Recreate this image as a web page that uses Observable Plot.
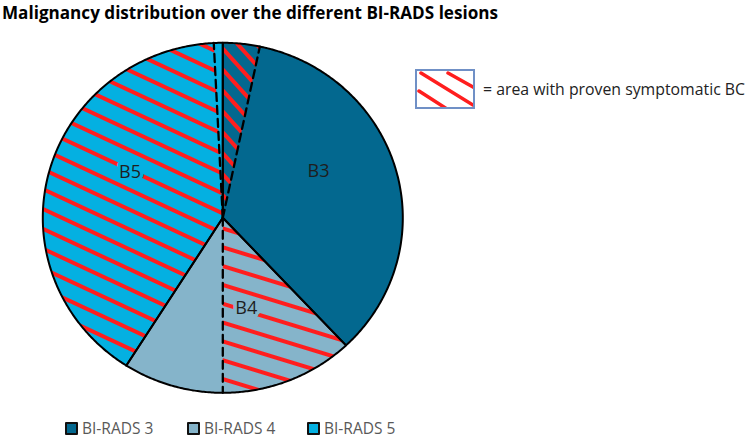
<!DOCTYPE html>
<html>
<head>
<meta charset="utf-8">
<script src="https://cdn.jsdelivr.net/npm/d3@7"></script>
<script src="https://cdn.jsdelivr.net/npm/@observablehq/plot@0.6"></script>
<style>
  html, body { margin: 0; padding: 0; background: #fff; }
  #wrap { position: relative; width: 749px; height: 439px; overflow: hidden; font-family: "Open Sans", "Noto Sans", sans-serif; }
  #chart { position: absolute; left: 0; top: 0; }
  #title { position: absolute; left: 2px; top: 1px; font-weight: 700; font-size: 17px; color: #000; white-space: nowrap; transform-origin: 0 0; }
  #hatchKey { position: absolute; left: 415px; top: 69px; width: 56px; height: 36px; border: 2.5px solid #7090c6; background: #fff; }
  #hatchKeyText { position: absolute; left: 483px; top: 78px; font-size: 16px; color: #222; white-space: nowrap; transform-origin: 0 0; }
  #legend { position: absolute; left: 0; top: 420px; height: 16px; width: 749px; }
  .item { position: absolute; top: 0; height: 16px; line-height: 16px; display: flex; align-items: center; font-size: 15.5px; color: #595959; white-space: nowrap; }
  .sw { width: 9px; height: 9px; border: 2px solid #111; margin-right: 4px; border-radius: 1px; }
</style>
</head>
<body>
<div id="wrap">
  <div id="chart"></div>
  <div id="title">Malignancy distribution over the different BI-RADS lesions</div>
  <div id="hatchKey"><svg width="56" height="36" style="display:block;overflow:hidden">
    <line x1="4" y1="2" x2="56" y2="34" stroke="#ff1e1e" stroke-width="3.5" stroke-linecap="round"/>
    <line x1="31" y1="2" x2="58" y2="17" stroke="#ff1e1e" stroke-width="3.5" stroke-linecap="round"/>
    <line x1="2" y1="20" x2="30" y2="38" stroke="#ff1e1e" stroke-width="3.5" stroke-linecap="round"/>
  </svg></div>
  <div id="hatchKeyText">= area with proven symptomatic BC</div>
  <div id="legend"></div>
</div>
<script>
// ---- data ----
const categories = ["BI-RADS 3", "BI-RADS 4", "BI-RADS 5"];
const sliceLabels = ["B3", "B4", "B5"];
const shares = [38.0, 21.0, 41.0];          // % of all malignancies per BI-RADS class
const symptomatic = [3.3, 12.0, 40.2];      // % of all malignancies with proven symptomatic BC

// ---- styles ----
const colors = ["#03688f", "#85b4ca", "#04b0e1"];
const hatchRed = "#ff1e1e";
const hatchAngle = [48, 17, 25];
const hatchGap = [14, 18, 18];
const labelNudge = [[2, -10], [14, -7], [4, -18]];

// ---- geometry from data ----
const starts = [];
let acc = 0;
for (const s of shares) { starts.push(acc * 3.6); acc += s; }

function wedge(a0, a1) {
  const pts = [{x: 0, y: 0}];
  const n = Math.max(2, Math.ceil((a1 - a0) / 0.5));
  for (let i = 0; i <= n; i++) {
    const a = (a0 + (a1 - a0) * i / n) * Math.PI / 180;
    pts.push({x: Math.sin(a), y: Math.cos(a)});
  }
  return pts;
}
function ray(a) {
  const r = a * Math.PI / 180;
  return [{x: 0, y: 0}, {x: Math.sin(r), y: Math.cos(r)}];
}

const defsMark = () => {
  const ns = "http://www.w3.org/2000/svg";
  const defs = document.createElementNS(ns, "defs");
  defs.innerHTML = categories.map((c, i) =>
    `<pattern id="hatch${i}" patternUnits="userSpaceOnUse" width="40" height="${hatchGap[i]}" patternTransform="rotate(${hatchAngle[i]})">
       <line x1="0" y1="${hatchGap[i] / 2}" x2="40" y2="${hatchGap[i] / 2}" stroke="${hatchRed}" stroke-width="3.8"/>
     </pattern>`).join("");
  return defs;
};

const marks = [defsMark];
categories.forEach((c, i) => {
  const a0 = starts[i], a1 = starts[i] + shares[i] * 3.6;
  marks.push(Plot.line(wedge(a0, a1), {x: "x", y: "y", fill: colors[i], stroke: "none", curve: "linear-closed"}));
});
categories.forEach((c, i) => {
  const a0 = starts[i], a1 = starts[i] + symptomatic[i] * 3.6;
  marks.push(Plot.line(wedge(a0, a1), {x: "x", y: "y", fill: `url(#hatch${i})`, stroke: "none", curve: "linear-closed"}));
});
categories.forEach((c, i) => {
  const a1 = starts[i] + symptomatic[i] * 3.6;
  marks.push(Plot.line(ray(a1), {x: "x", y: "y", stroke: "#000", strokeWidth: 2.3, strokeDasharray: "8,5"}));
});
categories.forEach((c, i) => {
  const a0 = starts[i], a1 = starts[i] + shares[i] * 3.6;
  marks.push(Plot.line(wedge(a0, a1), {x: "x", y: "y", fill: "none", stroke: "#000", strokeWidth: 2, strokeLinejoin: "round", curve: "linear-closed"}));
});
const labelData = categories.map((c, i) => {
  const mid = (starts[i] + shares[i] * 1.8) * Math.PI / 180;
  return {x: 0.56 * Math.sin(mid), y: 0.56 * Math.cos(mid), label: sliceLabels[i], i};
});
labelData.forEach(d => {
  marks.push(Plot.text([d], {x: "x", y: "y", text: "label", fontSize: 18, fill: "#1e1e1e",
    stroke: colors[d.i], strokeWidth: 7, dx: labelNudge[d.i][0], dy: labelNudge[d.i][1],
    fontFamily: "Open Sans, sans-serif"}));
});

const cx = 222.3, cy = 217.3, rx = 180, ry = 175;
const chart = Plot.plot({
  width: 749, height: 439,
  marginLeft: cx - rx, marginRight: 749 - (cx + rx),
  marginTop: cy - ry, marginBottom: 439 - (cy + ry),
  x: {domain: [-1, 1], axis: null},
  y: {domain: [-1, 1], axis: null},
  style: {background: "transparent", overflow: "visible"},
  marks
});
document.getElementById("chart").appendChild(chart);

// legend
const legend = document.getElementById("legend");
const legX = [65, 187, 307];
categories.forEach((c, i) => {
  const it = document.createElement("div");
  it.className = "item";
  it.style.left = legX[i] + "px";
  it.innerHTML = `<span class="sw" style="background:${colors[i]}"></span><span>${c}</span>`;
  legend.appendChild(it);
});

function fitWidth(el, target) {
  const w = el.getBoundingClientRect().width;
  if (w > 0) el.style.transform = `scaleX(${target / w})`;
}
fitWidth(document.getElementById("title"), 496);
fitWidth(document.getElementById("hatchKeyText"), 262);
</script>
</body>
</html>
